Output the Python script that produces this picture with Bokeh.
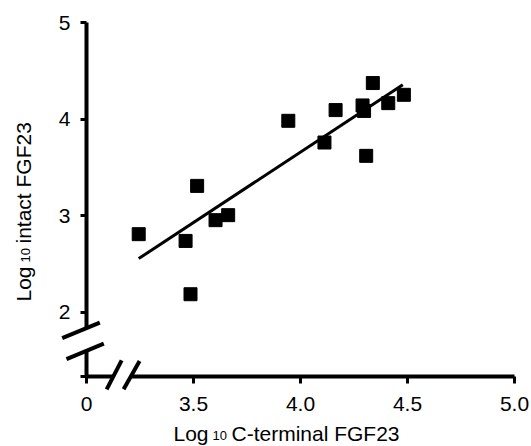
import math
from bokeh.plotting import figure
from bokeh.models import FixedTicker
from bokeh.core.properties import value
from bokeh.embed import file_html
from bokeh.resources import INLINE

# ---- data ----
c_terminal = [3.244, 3.463, 3.486, 3.517, 3.603, 3.662, 3.943, 4.112, 4.164,
              4.290, 4.297, 4.307, 4.338, 4.410, 4.483]
intact = [2.808, 2.738, 2.186, 3.308, 2.953, 3.005, 3.982, 3.757, 4.093,
          4.141, 4.084, 3.619, 4.373, 4.165, 4.251]
fit_x = [3.244, 4.478]
fit_y = [2.555, 4.355]
x_ticks = [3.0, 3.5, 4.0, 4.5, 5.0]
x_tick_labels = ["0", "3.5", "4.0", "4.5", "5.0"]
y_ticks = [1.334, 2.0, 3.0, 4.0, 5.0]
y_tick_labels = ["", "2", "3", "4", "5"]
x_break = [3.125, 3.207]   # gap in the x axis line
y_break = [1.600, 1.835]   # gap in the y axis line
x_title = ["Log", "10", "C-terminal FGF23"]
y_title = ["Log", "10", "intact FGF23"]

# ---- layout ----
W, H = 531, 446
BL, BR, BT, BB = 86, 17, 22, 70
X0, X1 = 3.0, 5.0
Y0, Y1 = 1.334, 5.0
kx = (W - BL - BR) / (X1 - X0)
ky = (H - BT - BB) / (Y1 - Y0)


def dx(px):  # screen pixel offset -> data offset (x)
    return px / kx


def dy(py):  # screen pixel offset (down positive) -> data offset (y)
    return -py / ky


def cx(c):  # canvas x -> data x
    return X0 + (c - BL) / kx


def cy(c):  # canvas y -> data y
    return Y0 + (H - BB - c) / ky


FONT = "Liberation Sans"

p = figure(width=W, height=H, output_backend="svg", toolbar_location=None,
           x_range=(X0, X1), y_range=(Y0, Y1),
           min_border_left=BL, min_border_right=BR,
           min_border_top=BT, min_border_bottom=BB)
p.outline_line_color = None
p.xgrid.visible = False
p.ygrid.visible = False
p.background_fill_color = "white"
p.border_fill_color = "white"

for ax, ticks, labels in ((p.xaxis[0], x_ticks, x_tick_labels),
                          (p.yaxis[0], y_ticks, y_tick_labels)):
    ax.ticker = FixedTicker(ticks=ticks)
    ax.major_label_overrides = {t: l for t, l in zip(ticks, labels)}
    ax.axis_line_color = None
    ax.major_tick_line_color = "black"
    ax.major_tick_line_width = 3
    ax.major_tick_in = 0
    ax.minor_tick_line_color = None
    ax.major_label_text_font = FONT
    ax.major_label_text_font_size = "21px"
    ax.major_label_text_color = "black"

p.xaxis.major_tick_out = 7
p.xaxis.major_label_standoff = 13
p.yaxis.major_tick_out = 6
p.yaxis.major_label_standoff = 10

# ---- axis lines with breaks ----
LW = 4
x0s = [X0, x_break[1], X0, X0]
y0s = [Y0, Y0, Y1, y_break[0]]
x1s = [x_break[0], X1, X0, X0]
y1s = [Y0, Y0, y_break[1], Y0]
p.segment(x0=x0s, y0=y0s, x1=x1s, y1=y1s, line_color="black",
          line_width=LW, line_cap="butt", level="overlay")

# break slashes (pixel offsets from the crossing points)
sx0 = [x_break[0] + dx(-6.6), x_break[1] + dx(-7.2), X0 + dx(-24.3), X0 + dx(-20.0)]
sy0 = [Y0 + dy(12.8), Y0 + dy(12.8), y_break[1] + dy(10.1), y_break[0] + dy(8.4)]
sx1 = [x_break[0] + dx(8.4), x_break[1] + dx(8.8), X0 + dx(13.3), X0 + dx(17.3)]
sy1 = [Y0 + dy(-16.2), Y0 + dy(-15.5), y_break[1] + dy(-5.5), y_break[0] + dy(-7.2)]
p.segment(x0=sx0, y0=sy0, x1=sx1, y1=sy1, line_color="black",
          line_width=LW, line_cap="butt", level="overlay")

# ---- data ----
p.line(fit_x, fit_y, line_color="black", line_width=3)
p.scatter(c_terminal, intact, marker="square", size=13,
          fill_color="black", line_color="black")

# ---- axis titles with subscripts ----
BIG, SMALL = "21px", "13px"
# x title: text boxes start at y=421 (subscript lower), pieces at x = 173, 212, 231
xs_title = [cx(173), cx(212), cx(231)]
ys_title = [cy(421), cy(430), cy(421)]
p.text(x=xs_title, y=ys_title, text=x_title, text_font=value(FONT),
       text_font_size=[BIG, SMALL, BIG], text_color="black",
       text_align="left", text_baseline="top", level="overlay")

# y title, rotated: text boxes start at x=11, pieces start at y = 301, 262, 243
xs_ytitle = [cx(11), cx(20), cx(11)]
ys_ytitle = [cy(301), cy(262), cy(243)]
p.text(x=xs_ytitle, y=ys_ytitle, text=y_title, text_font=value(FONT),
       text_font_size=[BIG, SMALL, BIG], text_color="black", angle=math.pi / 2,
       text_align="left", text_baseline="top", level="overlay")

open("out.html", "w").write(file_html(p, INLINE))
